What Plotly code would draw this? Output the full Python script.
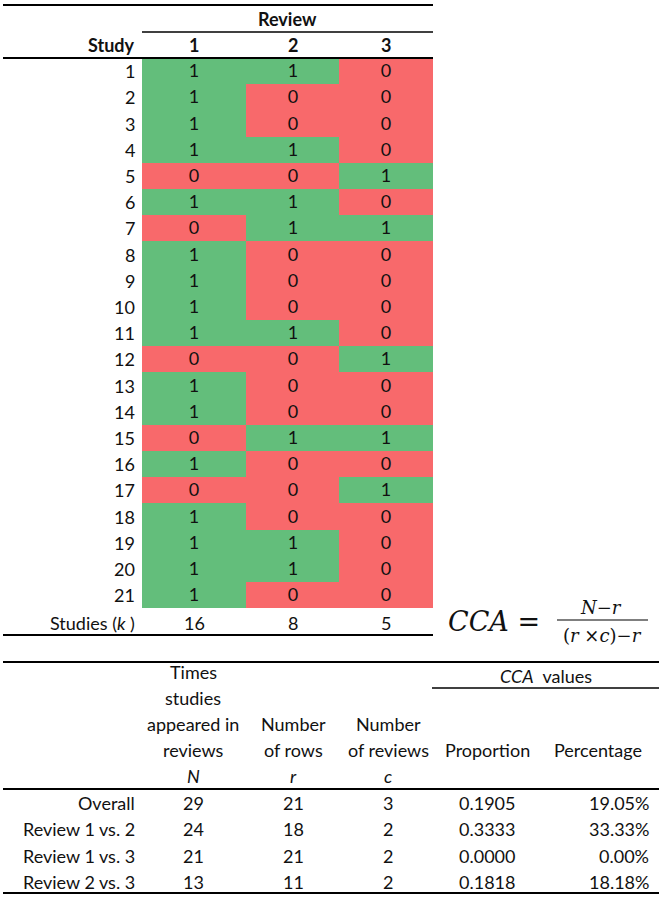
import plotly.graph_objects as go

# ---------------- data ----------------
studies = [str(i) for i in range(1, 22)]
reviews = ["1", "2", "3"]
review1 = [1, 1, 1, 1, 0, 1, 0, 1, 1, 1, 1, 0, 1, 1, 0, 1, 0, 1, 1, 1, 1]
review2 = [1, 0, 0, 1, 0, 1, 1, 0, 0, 0, 1, 0, 0, 0, 1, 0, 0, 0, 1, 1, 0]
review3 = [0, 0, 0, 0, 1, 0, 1, 0, 0, 0, 0, 1, 0, 0, 1, 0, 1, 0, 0, 0, 0]
studies_k = [16, 8, 5]

cmp_labels = ["Overall", "Review 1 vs. 2", "Review 1 vs. 3", "Review 2 vs. 3"]
times_N = [29, 24, 21, 13]
rows_r = [21, 18, 21, 11]
reviews_c = [3, 2, 2, 2]
cca_prop = [0.1905, 0.3333, 0.0000, 0.1818]

# ---------------- layout constants ----------------
W, H = 659, 900
FONT = "Lato"
FS = 18
GREEN = "#63BE7B"
RED = "#F8696B"
INK = "#111111"

col_edges = [142, 246, 339, 433]
row_top, row_h = 58, 26.2
row_edges = [row_top + i * row_h for i in range(len(studies) + 1)]
col_centers = [(col_edges[i] + col_edges[i + 1]) / 2 for i in range(3)]
label_right = 137

fig = go.Figure()

z = [[review1[i], review2[i], review3[i]] for i in range(len(studies))]
fig.add_trace(go.Heatmap(
    z=z, x=col_edges, y=row_edges,
    zmin=0, zmax=1,
    colorscale=[[0, RED], [0.5, RED], [0.5, GREEN], [1, GREEN]],
    showscale=False, hoverinfo="skip",
    texttemplate="%{z}", textfont=dict(family=FONT, size=FS, color=INK),
))

ann = []


def txt(x, y, s, anchor="center", size=FS, bold=False, family=FONT):
    if bold:
        s = "<b>" + s + "</b>"
    ann.append(dict(x=x, y=y, xref="x", yref="y", text=s, showarrow=False,
                    xanchor=anchor, yanchor="middle",
                    font=dict(family=family, size=size, color=INK)))


shapes = []


def hline(x0, x1, y, w=2):
    shapes.append(dict(type="line", xref="x", yref="y", x0=x0, x1=x1, y0=y, y1=y,
                       line=dict(color="black", width=w)))


# ---- top table ----
hline(3, 433, 5, 2)
txt((col_edges[0] + col_edges[-1]) / 2, 19, "Review", bold=True)
hline(col_edges[0], col_edges[-1], 32, 1.5)
txt(label_right, 45, "Study", anchor="right", bold=True)
for cx, rv in zip(col_centers, reviews):
    txt(cx, 45, rv, bold=True)
hline(3, 433, 58, 2)
for i, s in enumerate(studies):
    txt(label_right, row_top + (i + 0.5) * row_h, s, anchor="right")
txt(label_right, 623, "Studies (<i>k</i> )", anchor="right")
for cx, k in zip(col_centers, studies_k):
    txt(cx, 623, str(k))
hline(3, 433, 635, 2)

# ---- formula ----
SERIF = "DejaVu Serif"
txt(446, 621, "<i>CCA</i> =", anchor="left", size=27, family=SERIF)
txt(601, 607, "<i>N</i>−<i>r</i>", size=18, family=SERIF)
txt(602, 635, "(<i>r</i> ×<i>c</i>)−<i>r</i>", size=18, family=SERIF)
shapes.append(dict(type="line", xref="x", yref="y", x0=557, x1=648, y0=620, y1=620,
                   line=dict(color="black", width=1.2)))

# ---- bottom table ----
xN, xr, xc, xp, xpc, xpr = 193, 293, 388, 487, 598, 651
hline(3, 659, 662, 2)
hy = [672, 698, 724, 750, 776]
for y, s in zip(hy, ["Times", "studies", "appeared in", "reviews", "<i>N</i>"]):
    txt(xN, y, s)
for y, s in zip(hy[2:], ["Number", "of rows", "<i>r</i>"]):
    txt(xr, y, s)
for y, s in zip(hy[2:], ["Number", "of reviews", "<i>c</i>"]):
    txt(xc, y, s)
txt((432 + 659) / 2, 676, "<i>CCA</i>  values")
hline(432, 659, 688, 1.5)
txt(xp, hy[3], "Proportion")
txt(xpc, hy[3], "Percentage")
hline(3, 659, 789, 2)
for i, lab in enumerate(cmp_labels):
    y = 803 + i * 26.3
    txt(label_right, y, lab, anchor="right")
    txt(xN, y, str(times_N[i]))
    txt(xr, y, str(rows_r[i]))
    txt(xc, y, str(reviews_c[i]))
    txt(xp, y, f"{cca_prop[i]:.4f}")
    txt(xpr, y, f"{cca_prop[i] * 100:.2f}%", anchor="right")
hline(3, 659, 893, 2)

fig.update_layout(
    width=W, height=H, autosize=False,
    margin=dict(l=0, r=0, t=0, b=0),
    paper_bgcolor="white", plot_bgcolor="white",
    xaxis=dict(range=[0, W], visible=False, fixedrange=True),
    yaxis=dict(range=[H, 0], visible=False, fixedrange=True),
    annotations=ann, shapes=shapes, showlegend=False,
)

fig.write_html(
    "out.html",
    config={"displayModeBar": False},
    post_script="document.body.style.margin='0px';document.body.style.overflow='hidden';",
)
